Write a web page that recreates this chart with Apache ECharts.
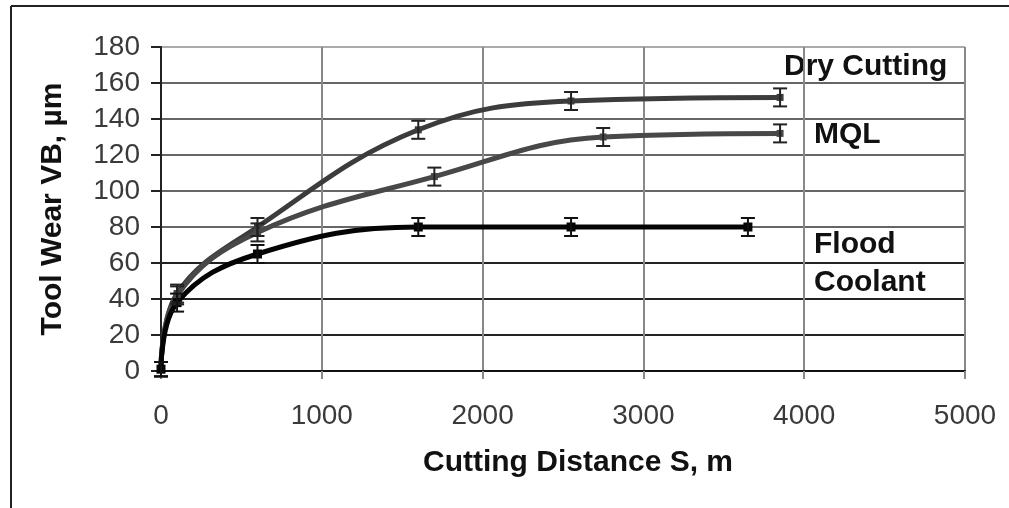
<!DOCTYPE html>
<html>
<head>
<meta charset="utf-8">
<script src="https://cdn.jsdelivr.net/npm/echarts@6/dist/echarts.min.js"></script>
<style>
html,body{margin:0;padding:0;background:#fff;}
#chart{width:1009px;height:508px;}
</style>
</head>
<body>
<div id="chart"></div>
<script>
// ---- data ----
var seriesNames = ['Dry Cutting', 'MQL', 'Flood Coolant'];
var dryX   = [0, 100, 600, 1600, 2550, 3850];
var dryY   = [1, 43, 80, 134, 150, 152];
var dryErr = [4, 5, 5, 5, 5, 5];
var mqlX   = [0, 100, 600, 1700, 2750, 3850];
var mqlY   = [1, 42, 77, 108, 130, 132];
var mqlErr = [4, 5, 5, 5, 5, 5];
var floodX   = [0, 100, 600, 1600, 2550, 3650];
var floodY   = [1, 38, 65, 80, 80, 80];
var floodErr = [4, 5, 5, 5, 5, 5];
var xTicks = [0, 1000, 2000, 3000, 4000, 5000];
var yTicks = [0, 20, 40, 60, 80, 100, 120, 140, 160, 180];

function pairs(xs, ys) { return xs.map(function (x, i) { return [x, ys[i]]; }); }
function errData(xs, ys, es) { return xs.map(function (x, i) { return [x, ys[i] - es[i], ys[i] + es[i]]; }); }

function errRender(color) {
  return function (params, api) {
    var x = api.value(0);
    var lo = api.coord([x, api.value(1)]);
    var hi = api.coord([x, api.value(2)]);
    var hw = 7;
    var st = { stroke: color, lineWidth: 2 };
    return {
      type: 'group',
      children: [
        { type: 'line', shape: { x1: lo[0], y1: lo[1], x2: hi[0], y2: hi[1] }, style: st },
        { type: 'line', shape: { x1: lo[0] - hw, y1: lo[1], x2: lo[0] + hw, y2: lo[1] }, style: st },
        { type: 'line', shape: { x1: hi[0] - hw, y1: hi[1], x2: hi[0] + hw, y2: hi[1] }, style: st }
      ]
    };
  };
}

var FONT = 'Liberation Sans, Arial, sans-serif';
var chart = echarts.init(document.getElementById('chart'), null, { renderer: 'canvas' });

function lineSeries(name, xs, ys, color, symSize) {
  return {
    name: name, type: 'line', data: pairs(xs, ys), smooth: 0.4,
    symbol: 'rect', symbolSize: symSize, showAllSymbol: true,
    lineStyle: { color: color, width: 5 },
    itemStyle: { color: color },
    z: 3
  };
}
function errSeries(name, xs, ys, es, color) {
  return {
    name: name + ' err', type: 'custom', data: errData(xs, ys, es),
    renderItem: errRender(color), z: 4,
    encode: { x: 0, y: [1, 2] }
  };
}

var option = {
  animation: false,
  backgroundColor: '#fff',
  grid: { left: 161, right: 44, top: 47, bottom: 137, containLabel: false },
  xAxis: {
    type: 'value', min: xTicks[0], max: xTicks[xTicks.length - 1], interval: 1000,
    name: 'Cutting Distance S, m', nameLocation: 'middle', nameGap: 77,
    nameTextStyle: { fontFamily: FONT, fontWeight: 'bold', fontSize: 30, color: '#111', padding: [0, 0, 0, 30] },
    axisLine: { show: true, lineStyle: { color: '#111', width: 2 } },
    axisTick: { show: true, length: 8, lineStyle: { color: '#888', width: 2 } },
    axisLabel: { margin: 31, fontFamily: FONT, fontSize: 28, color: '#3a3a3a',
      formatter: function (v) { return String(v); } },
    splitLine: { show: true, lineStyle: { color: '#888', width: 2 } }
  },
  yAxis: {
    type: 'value', min: yTicks[0], max: yTicks[yTicks.length - 1], interval: 20,
    name: 'Tool Wear VB, µm', nameLocation: 'middle', nameGap: 93,
    nameTextStyle: { fontFamily: FONT, fontWeight: 'bold', fontSize: 30, color: '#111' },
    axisLine: { show: true, lineStyle: { color: '#222', width: 2 } },
    axisTick: { show: true, length: 10, lineStyle: { color: '#222', width: 2 } },
    axisLabel: { margin: 21, fontFamily: FONT, fontSize: 28, color: '#3a3a3a',
      formatter: function (v) { return String(v); } },
    splitLine: { show: true, lineStyle: { color: ['#222', '#222', '#222', '#222', '#666', '#666', '#666', '#666', '#666', '#aaa'], width: 2 } }
  },
  series: [
    lineSeries(seriesNames[0], dryX, dryY, '#3c3c3c', 7),
    lineSeries(seriesNames[1], mqlX, mqlY, '#484848', 7),
    lineSeries(seriesNames[2], floodX, floodY, '#050505', 9),
    errSeries(seriesNames[0], dryX, dryY, dryErr, '#222'),
    errSeries(seriesNames[1], mqlX, mqlY, mqlErr, '#222'),
    errSeries(seriesNames[2], floodX, floodY, floodErr, '#111')
  ],
  graphic: [
    { type: 'line', shape: { x1: 11, y1: 6, x2: 1009, y2: 6 }, style: { stroke: '#222', lineWidth: 2 } },
    { type: 'line', shape: { x1: 11, y1: 6, x2: 11, y2: 508 }, style: { stroke: '#222', lineWidth: 2 } },
    { type: 'text', x: 784, y: 67, style: { text: 'Dry Cutting', font: 'bold 30px ' + FONT, fill: '#111', verticalAlign: 'middle' } },
    { type: 'text', x: 814, y: 135, style: { text: 'MQL', font: 'bold 30px ' + FONT, fill: '#111', verticalAlign: 'middle' } },
    { type: 'text', x: 814, y: 245, style: { text: 'Flood', font: 'bold 30px ' + FONT, fill: '#111', verticalAlign: 'middle' } },
    { type: 'text', x: 814, y: 283, style: { text: 'Coolant', font: 'bold 30px ' + FONT, fill: '#111', verticalAlign: 'middle' } }
  ]
};
chart.setOption(option);
</script>
</body>
</html>
